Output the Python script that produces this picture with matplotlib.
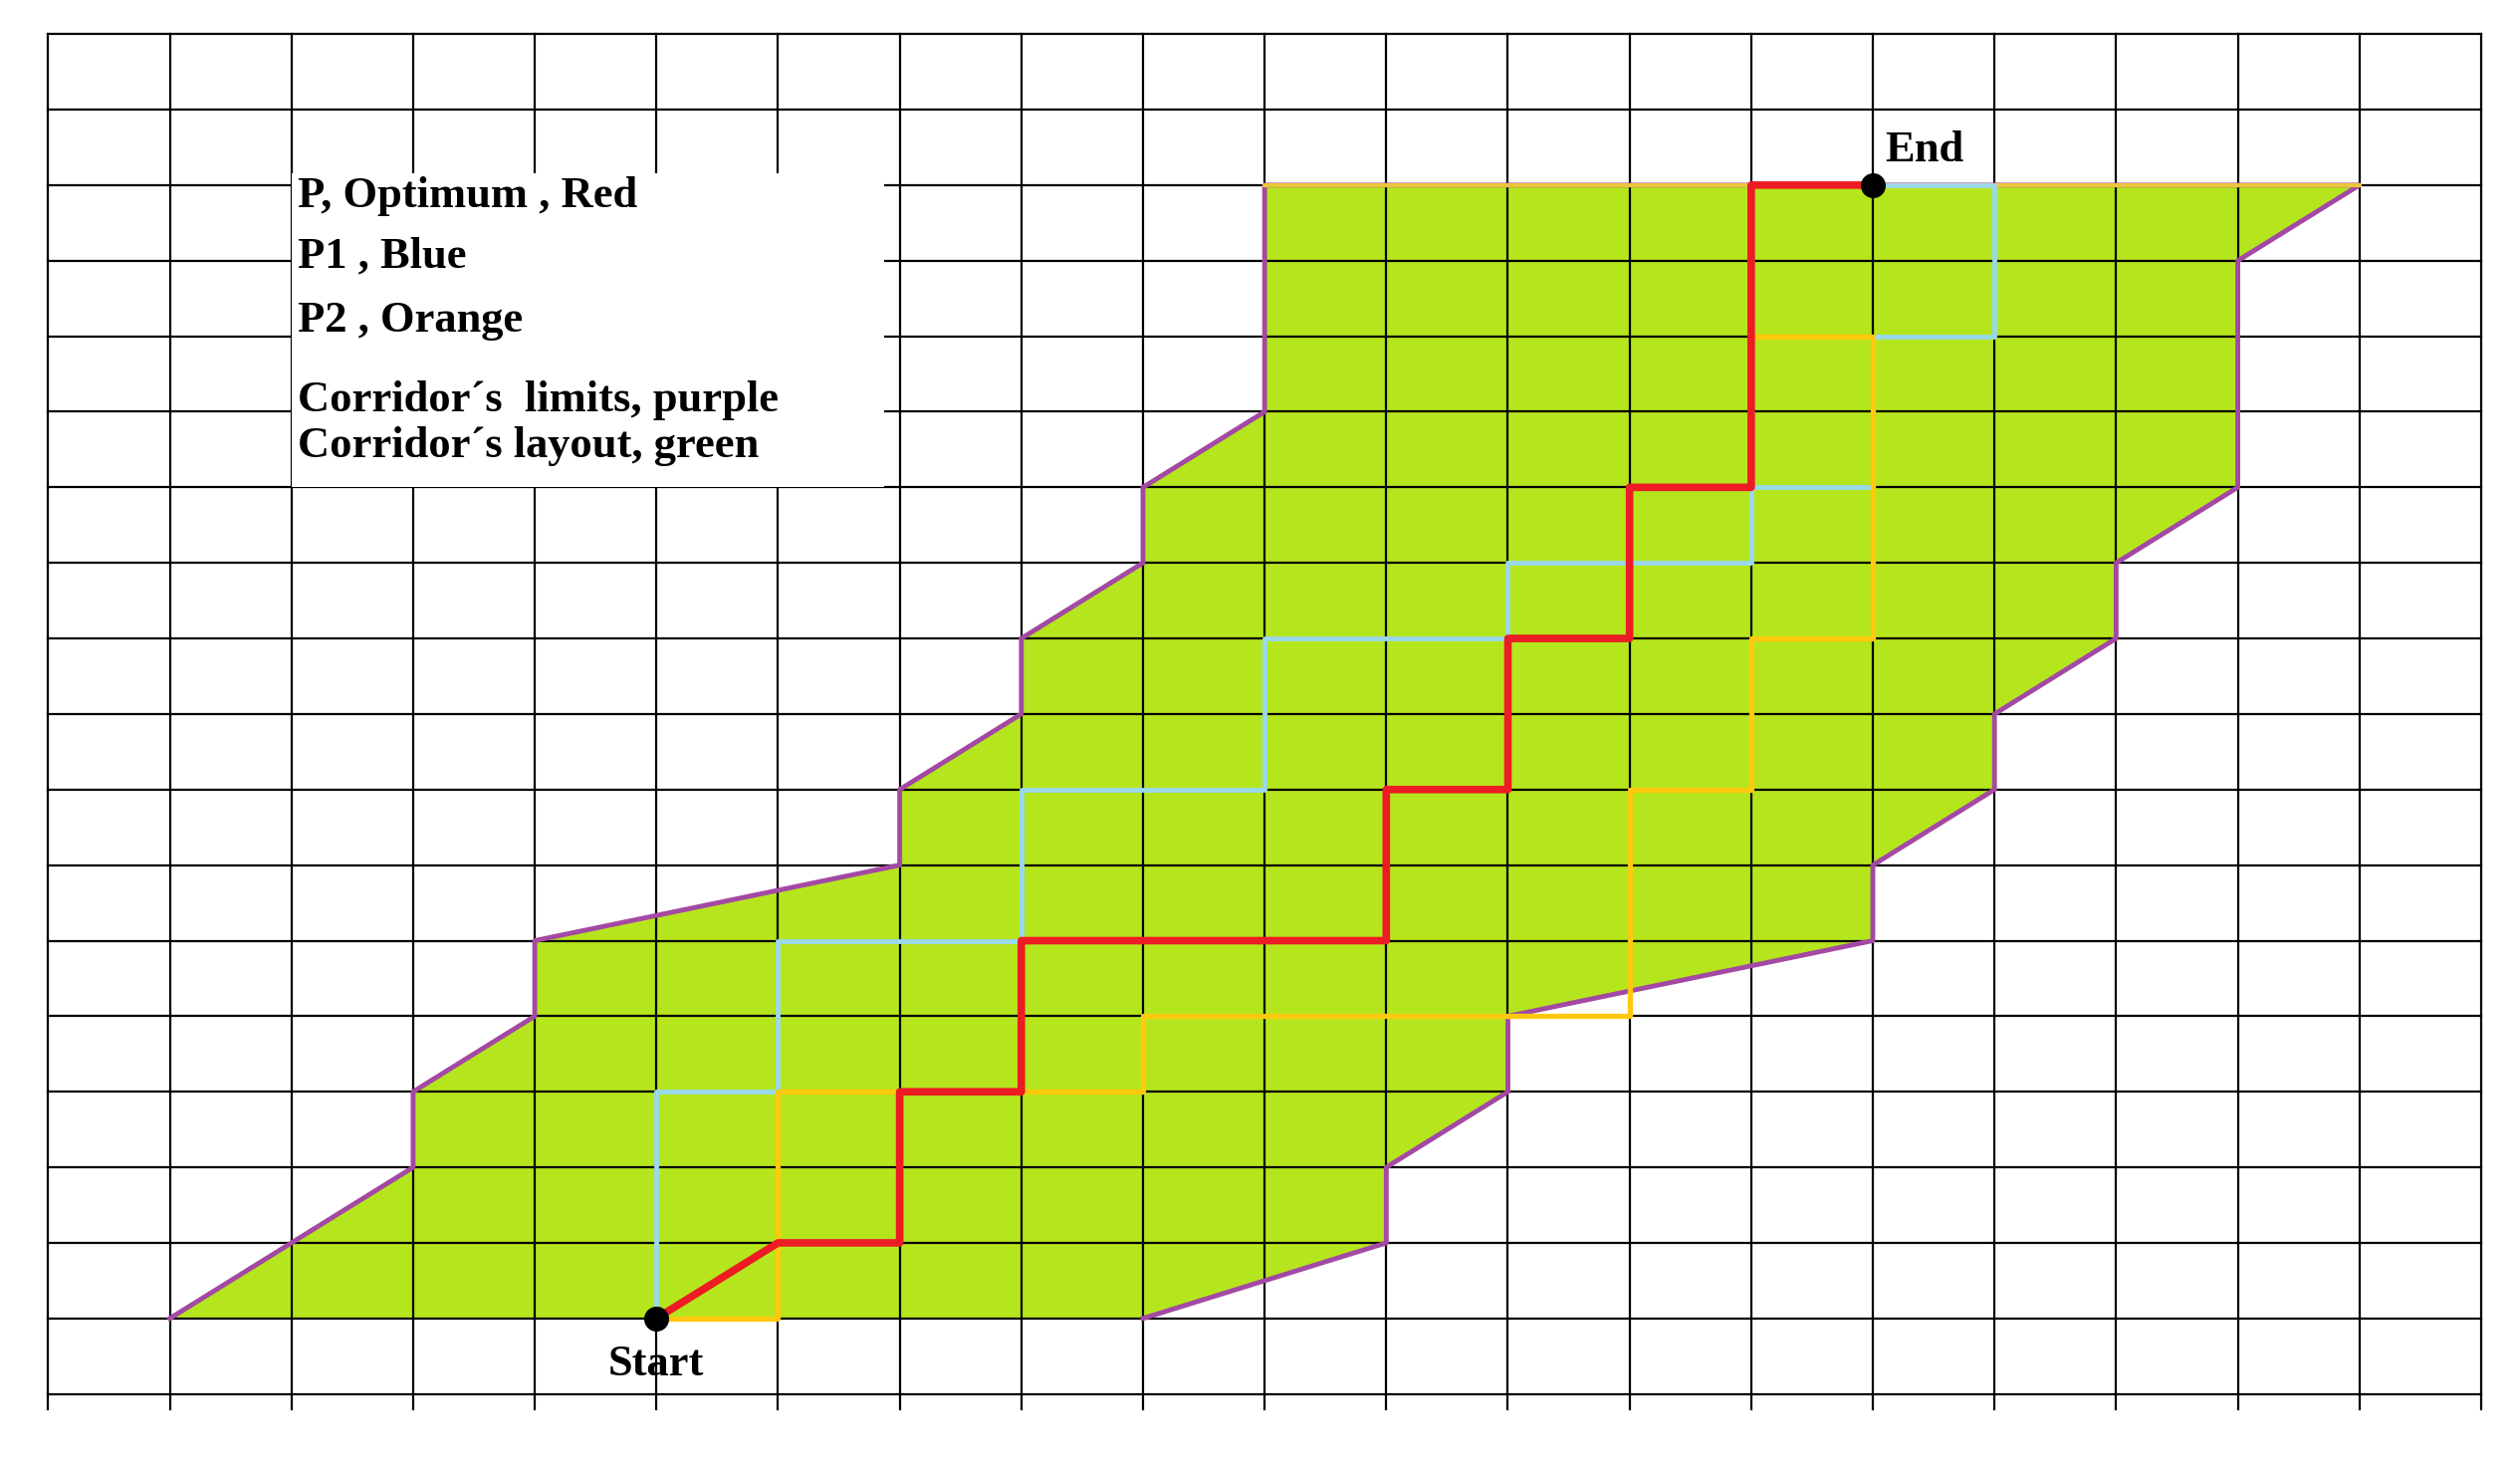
import matplotlib.pyplot as plt

# grid units: columns 0..20, rows 0..16 (row 0 = corridor bottom)
corridor_x = [1, 3, 3, 4, 4, 7, 7, 8, 8, 9, 9, 10, 10, 19, 18, 18, 17, 17, 16, 16, 15, 15, 12, 12, 11, 11, 9, 1]
corridor_y = [0, 2, 3, 4, 5, 6, 7, 8, 9, 10, 11, 12, 15, 15, 14, 11, 10, 9, 8, 7, 6, 5, 4, 3, 2, 1, 0, 0]

red_x = [5, 6, 7, 7, 8, 8, 11, 11, 12, 12, 13, 13, 14, 14, 15]
red_y = [0, 1, 1, 3, 3, 5, 5, 7, 7, 9, 9, 11, 11, 15, 15]

blue_x = [5, 5, 6, 6, 8, 8, 10, 10, 12, 12, 14, 14, 15, 15, 16, 16, 15]
blue_y = [0, 3, 3, 5, 5, 7, 7, 9, 9, 10, 10, 11, 11, 13, 13, 15, 15]

orange_x = [5, 6, 6, 9, 9, 13, 13, 14, 14, 15, 15, 14, 14, 15]
orange_y = [0, 0, 3, 3, 4, 4, 7, 7, 9, 9, 13, 13, 15, 15]

legend_lines = ["P, Optimum , Red", "P1 , Blue", "P2 , Orange",
                "Corridor\u00b4s  limits, purple", "Corridor\u00b4s layout, green"]

fig = plt.figure(figsize=(25.31, 14.71), dpi=100)
ax = fig.add_axes([0, 0, 1, 1])
ax.set_xlim(-0.396, 20.32)
ax.set_ylim(-1.94, 17.45)
ax.axis('off')

ax.fill(corridor_x, corridor_y, color='#B5E61D', zorder=1)

# grid
for i in range(21):
    ax.plot([i, i], [-1.2, 17], color='black', lw=1.6, zorder=2)
for j in range(-1, 18):
    ax.plot([0, 20], [j, j], color='black', lw=1.6, zorder=2)

# corridor limits (all edges except bottom)
ax.plot(corridor_x[:-1], corridor_y[:-1], color='#A349A4', lw=3.5, zorder=3)
ax.plot([10, 19], [15, 15], color='#E8C53A', lw=3, zorder=3)

ax.plot(blue_x, blue_y, color='#99D9EA', lw=3.5, zorder=4)
ax.plot(orange_x, orange_y, color='#FFC90E', lw=3.8, zorder=5)
ax.plot(red_x, red_y, color='#ED1C24', lw=5.5, zorder=6)

ax.plot([5, 15], [0, 15], 'o', color='black', ms=17, zorder=7)
ax.text(5, -0.35, "Start", ha='center', va='top', fontsize=32, fontweight='bold',
        family='Liberation Serif', zorder=8)
ax.text(15.1, 15.2, "End", ha='left', va='bottom', fontsize=32, fontweight='bold',
        family='Liberation Serif', zorder=8)

# white text box
ax.add_patch(plt.Rectangle((2.0, 11.0), 4.87, 4.15, facecolor='white', edgecolor='none', zorder=7))
ys = [14.85, 14.05, 13.2, 12.15, 11.55]
for t, y in zip(legend_lines, ys):
    ax.text(2.05, y, t, ha='left', va='center', fontsize=32, fontweight='bold',
            family='Liberation Serif', zorder=8)

fig.savefig('out.png', dpi=100)
